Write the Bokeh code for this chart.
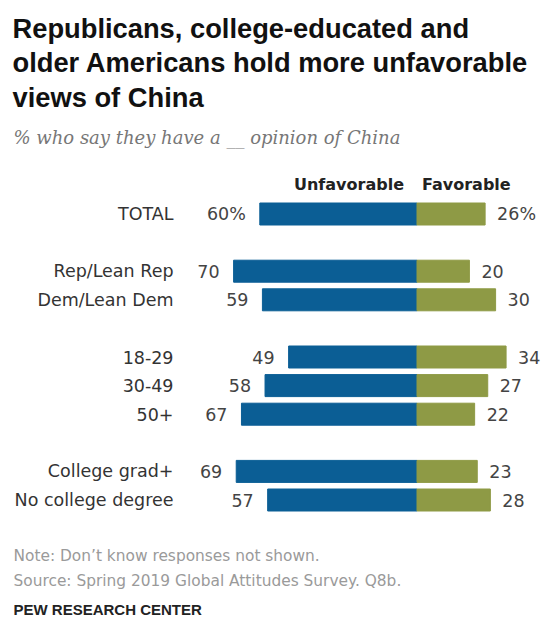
from bokeh.plotting import figure
from bokeh.models import Range1d, ColumnDataSource
from bokeh.core.properties import value
from bokeh.embed import file_html
from bokeh.resources import INLINE

# ---- data ----
categories = ["TOTAL", "Rep/Lean Rep", "Dem/Lean Dem", "18-29", "30-49", "50+",
              "College grad+", "No college degree"]
unfavorable = [60, 70, 59, 49, 58, 67, 69, 57]
favorable = [26, 20, 30, 34, 27, 22, 23, 28]
groups = [0, 1, 1, 2, 2, 2, 3, 3]

title_lines = ["Republicans, college-educated and",
               "older Americans hold more unfavorable",
               "views of China"]
subtitle = "% who say they have a __ opinion of China"
series_names = ["Unfavorable", "Favorable"]
note = "Note: Don\u2019t know responses not shown."
source = "Source: Spring 2019 Global Attitudes Survey. Q8b."
credit = "PEW RESEARCH CENTER"

BLUE = "#0b5e95"
GREEN = "#8e9a45"

W, H = 541, 623
ZERO_PX = 416.5
PX_PER_UNIT = 2.62

def px2x(px):
    return (px - ZERO_PX) / PX_PER_UNIT

p = figure(width=W, height=H, output_backend="svg", toolbar_location=None,
           x_range=Range1d(px2x(0), px2x(W)), y_range=Range1d(H, 0),
           x_axis_type=None, y_axis_type=None,
           min_border=0, min_border_left=0, min_border_right=0,
           min_border_top=0, min_border_bottom=0)
p.grid.visible = False
p.outline_line_color = None
p.background_fill_color = "white"
p.border_fill_color = "white"

# row positions: pitch with an empty row between groups
PITCH = 28.6
TOP = 213.5
row_idx = []
r = 0
prev = groups[0]
for g in groups:
    if g != prev:
        r += 1
        prev = g
    row_idx.append(r)
    r += 1
ys = [TOP + i * PITCH for i in row_idx]

src = ColumnDataSource(dict(
    cat=categories, unf=unfavorable, fav=favorable,
    neg_unf=[-u for u in unfavorable], zero=[0] * len(categories), y=ys,
    unf_lbl=[f"{u}%" if i == 0 else str(u) for i, u in enumerate(unfavorable)],
    fav_lbl=[f"{f}%" if i == 0 else str(f) for i, f in enumerate(favorable)],
))

BAR_H = 22
p.hbar(y="y", left="neg_unf", right="zero", height=BAR_H, color=BLUE, source=src)
p.hbar(y="y", left="zero", right="fav", height=BAR_H, color=GREEN, source=src)

FONT = value("DejaVu Sans")
p.text(x="neg_unf", y="y", text="unf_lbl", source=src, x_offset=-14,
       text_align="right", text_baseline="middle", text_font=FONT,
       text_font_size="17.5px", text_color="#444444")
p.text(x="fav", y="y", text="fav_lbl", source=src, x_offset=12,
       text_align="left", text_baseline="middle", text_font=FONT,
       text_font_size="17.5px", text_color="#444444")
p.text(x="zero", y="y", text="cat", source=src, x_offset=173 - ZERO_PX,
       text_align="right", text_baseline="middle", text_font=FONT,
       text_font_size="17.5px", text_color="#333333")

# series headers
p.text(x=[0], y=[184], text=[series_names[0]], x_offset=-13,
       text_align="right", text_baseline="middle", text_font=FONT,
       text_font_style="bold", text_font_size="16px", text_color="#222222")
p.text(x=[0], y=[184], text=[series_names[1]], x_offset=5,
       text_align="left", text_baseline="middle", text_font=FONT,
       text_font_style="bold", text_font_size="16px", text_color="#222222")

# title
for i, line in enumerate(title_lines):
    p.text(x=[px2x(12)], y=[27.5 + i * 34.5], text=[line], text_align="left",
           text_baseline="middle", text_font=value("Liberation Sans"),
           text_font_style="bold", text_font_size="27.3px", text_color="#111111")

p.text(x=[px2x(13)], y=[137], text=[subtitle], text_align="left",
       text_baseline="middle", text_font=value("DejaVu Serif"),
       text_font_style="italic", text_font_size="18px", text_color="#777777")

p.text(x=[px2x(13)], y=[555], text=[note], text_align="left",
       text_baseline="middle", text_font=FONT, text_font_size="15.4px",
       text_color="#9a9a9a")
p.text(x=[px2x(13)], y=[580.5], text=[source], text_align="left",
       text_baseline="middle", text_font=FONT, text_font_size="15.4px",
       text_color="#9a9a9a")
p.text(x=[px2x(13)], y=[609], text=[credit], text_align="left",
       text_baseline="middle", text_font=value("Liberation Sans"),
       text_font_style="bold", text_font_size="15px", text_color="#222222")

open("out.html", "w").write(file_html(p, INLINE))
